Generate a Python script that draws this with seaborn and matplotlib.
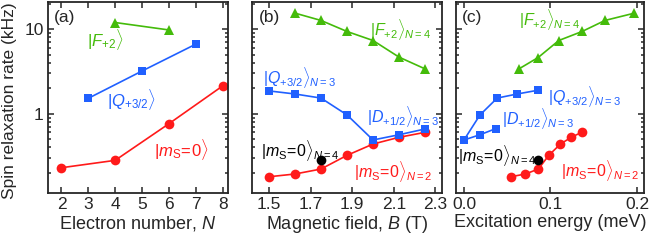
import numpy as np
import pandas as pd
import matplotlib
matplotlib.use("Agg")
import matplotlib.pyplot as plt
import seaborn as sns

# ---- data ----
# (a) rate vs electron number
n_ms0 = [2, 4, 6, 8]
r_ms0_a = [0.229, 0.28, 0.76, 2.13]
n_q = [3, 5, 7]
r_q_a = [1.52, 3.2, 6.65]
n_f = [4, 6]
r_f_a = [12.0, 9.8]

# (b) rate vs magnetic field
b_ms0 = [1.5, 1.625, 1.75, 1.875, 2.0, 2.125, 2.25]
r_ms0_b = [0.179, 0.193, 0.221, 0.321, 0.437, 0.525, 0.601]
b_q = [1.5, 1.625, 1.75, 1.875, 2.0]
r_q_b = [1.86, 1.71, 1.53, 0.966, 0.488]
b_d = [2.0, 2.125, 2.25]
r_d_b = [0.488, 0.563, 0.659]
b_f = [1.625, 1.75, 1.875, 2.0, 2.125, 2.25]
r_f_b = [15.5, 12.7, 9.4, 7.35, 4.67, 3.39]
b_n4 = [1.75]
r_n4_b = [0.282]

# (c) rate vs excitation energy
e_ms0 = [0.054, 0.071, 0.086, 0.098, 0.1115, 0.124, 0.136]
r_ms0_c = r_ms0_b
e_q = [0.0, 0.0185, 0.0384, 0.0615, 0.085]
r_q_c = [0.488, 0.966, 1.53, 1.71, 1.89]
e_d = [0.0, 0.0185, 0.0366]
r_d_c = [0.488, 0.563, 0.664]
e_f = [0.0635, 0.0857, 0.1096, 0.1365, 0.163, 0.197]
r_f_c = [3.39, 4.62, 7.35, 9.4, 12.7, 15.5]
e_n4 = [0.0857]
r_n4_c = [0.282]

RED = "#ff1a1a"
BLUE = "#2060ff"
GREEN = "#44bb0a"

sns.set_style("ticks")
plt.rcParams["font.family"] = ["Liberation Sans", "DejaVu Sans"]
plt.rcParams["mathtext.fontset"] = "custom"
plt.rcParams["mathtext.rm"] = "Liberation Sans"
plt.rcParams["mathtext.it"] = "Liberation Sans:italic"
plt.rcParams["mathtext.bf"] = "Liberation Sans:bold"
plt.rcParams["axes.linewidth"] = 1.3

fig = plt.figure(figsize=(6.55, 2.41), dpi=100)
ax_a = fig.add_axes([0.0733, 0.1992, 0.2748, 0.7925])
ax_b = fig.add_axes([0.3852, 0.1992, 0.2892, 0.7925])
ax_c = fig.add_axes([0.6957, 0.1992, 0.2879, 0.7925])


def series(ax, x, y, color, marker, ms):
    df = pd.DataFrame({"x": x, "y": y})
    sns.lineplot(data=df, x="x", y="y", ax=ax, color=color, marker=marker,
                 markersize=ms, markeredgewidth=0, linewidth=1.2, sort=False)


series(ax_a, n_ms0, r_ms0_a, RED, "o", 7)
series(ax_a, n_q, r_q_a, BLUE, "s", 6)
series(ax_a, n_f, r_f_a, GREEN, "^", 7)

series(ax_b, b_ms0, r_ms0_b, RED, "o", 7)
series(ax_b, b_q, r_q_b, BLUE, "s", 6)
series(ax_b, b_d, r_d_b, BLUE, "s", 6)
series(ax_b, b_f, r_f_b, GREEN, "^", 7)
series(ax_b, b_n4, r_n4_b, "black", "o", 7)

series(ax_c, e_ms0, r_ms0_c, RED, "o", 7)
series(ax_c, e_q, r_q_c, BLUE, "s", 6)
series(ax_c, e_d, r_d_c, BLUE, "s", 6)
series(ax_c, e_f, r_f_c, GREEN, "^", 7)
series(ax_c, e_n4, r_n4_c, "black", "o", 7)

for ax in (ax_a, ax_b, ax_c):
    ax.set_yscale("log")
    ax.set_ylim(0.115, 21)
    ax.set_ylabel("")
    ax.tick_params(which="both", direction="in", top=True, right=True,
                   labelsize=12.5, width=1.1, pad=3)
    ax.tick_params(which="major", length=4.5)
    ax.tick_params(which="minor", length=2.5)
    ax.yaxis.set_major_locator(matplotlib.ticker.FixedLocator([1, 10]))
    ax.yaxis.set_minor_locator(matplotlib.ticker.LogLocator(subs=np.arange(2, 10)))
    ax.yaxis.set_minor_formatter(matplotlib.ticker.NullFormatter())
    ax.xaxis.set_minor_locator(matplotlib.ticker.NullLocator())

ax_a.yaxis.set_major_formatter(matplotlib.ticker.FixedFormatter(["1", "10"]))
ax_b.tick_params(labelleft=False)
ax_c.tick_params(labelleft=False)

ax_a.set_xlim(1.5, 8.2)
ax_a.set_xticks([2, 3, 4, 5, 6, 7, 8])
ax_b.set_xlim(1.42, 2.33)
ax_b.set_xticks([1.5, 1.7, 1.9, 2.1, 2.3])
ax_c.set_xlim(-0.0096, 0.2084)
ax_c.set_xticks([0.0, 0.1, 0.2])
ax_c.set_xticklabels(["0.0", "0.1", "0.2"])

ax_a.set_ylabel("Spin relaxation rate (kHz)", fontsize=12.5)
ax_a.yaxis.set_label_coords(-0.17, 0.485)
ax_a.set_xlabel("Electron number, $N$", fontsize=13, labelpad=1)
ax_b.set_xlabel("Magnetic field, $B$ (T)", fontsize=13, labelpad=1)
ax_c.set_xlabel("Excitation energy (meV)", fontsize=13, labelpad=1)

for ax, lab in ((ax_a, "(a)"), (ax_b, "(b)"), (ax_c, "(c)")):
    ax.text(0.035, 0.96, lab, transform=ax.transAxes, fontsize=12.5,
            ha="left", va="top")

ms0 = r"$|m_\mathrm{S}\!=\!0\rangle"
fs = 12
fs2 = 11.5
# (a)
ax_a.text(2.94, 7.5, r"$|F_{+2}\rangle$", color=GREEN, fontsize=fs, va="center")
ax_a.text(3.7, 1.49, r"$|Q_{+3/2}\rangle$", color=BLUE, fontsize=fs, va="center")
ax_a.text(5.44, 0.378, ms0 + "$", color=RED, fontsize=fs, va="center")
# (b)
ax_b.text(1.985, 9.8, r"$|F_{+2}\rangle_{N=4}$", color=GREEN, fontsize=fs2, va="center")
ax_b.text(1.473, 2.7, r"$|Q_{+3/2}\rangle_{N=3}$", color=BLUE, fontsize=fs2, va="center")
ax_b.text(1.97, 0.92, r"$|D_{+1/2}\rangle_{N=3}$", color=BLUE, fontsize=fs2, va="center")
ax_b.text(1.462, 0.37, ms0 + r"_{N=4}$", color="black", fontsize=fs2, va="center")
ax_b.text(1.91, 0.205, ms0 + r"_{N=2}$", color=RED, fontsize=fs2, va="center")
# (c)
ax_c.text(0.0635, 12.9, r"$|F_{+2}\rangle_{N=4}$", color=GREEN, fontsize=fs2, va="center")
ax_c.text(0.097, 1.59, r"$|Q_{+3/2}\rangle_{N=3}$", color=BLUE, fontsize=fs2, va="center")
ax_c.text(0.0435, 0.88, r"$|D_{+1/2}\rangle_{N=3}$", color=BLUE, fontsize=fs2, va="center")
ax_c.text(-0.0075, 0.32, ms0 + r"_{N=4}$", color="black", fontsize=fs2, va="center")
ax_c.text(0.1127, 0.215, ms0 + r"_{N=2}$", color=RED, fontsize=fs2, va="center")

fig.savefig("out.png", dpi=100)
